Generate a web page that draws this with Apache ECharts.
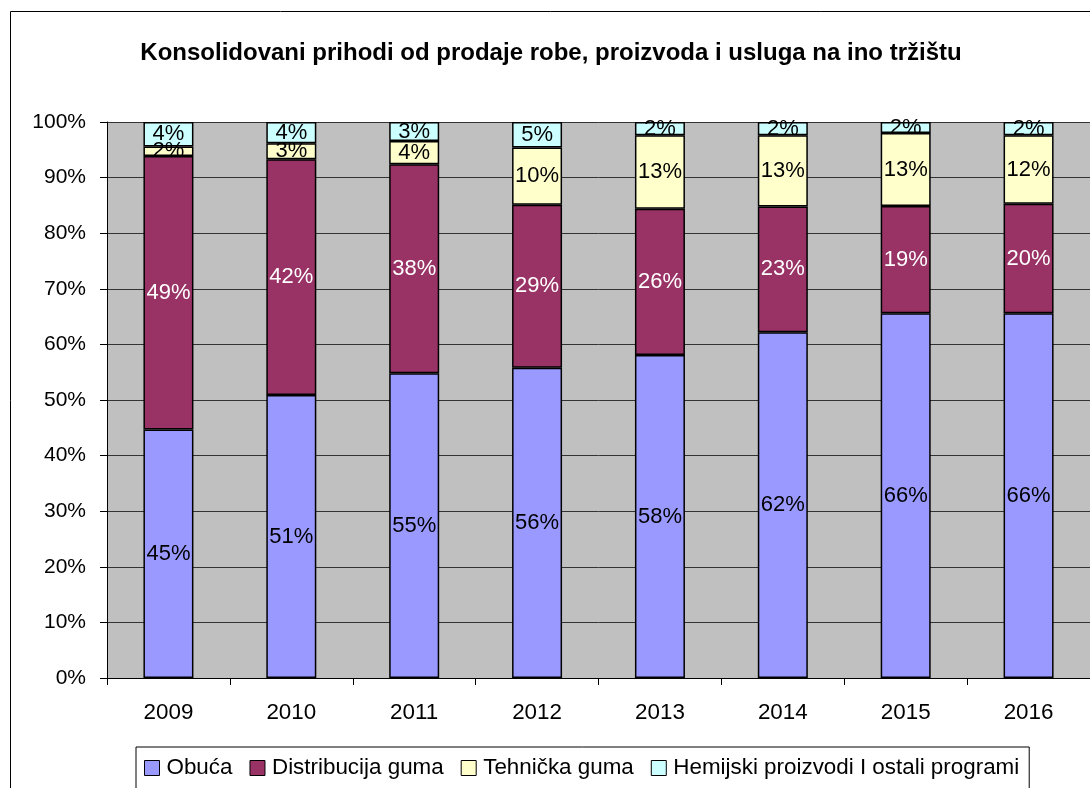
<!DOCTYPE html>
<html>
<head>
<meta charset="utf-8">
<script src="https://cdn.jsdelivr.net/npm/echarts@6/dist/echarts.min.js"></script>
<style>
html,body{margin:0;padding:0;background:#fff;}
#chart{width:1090px;height:788px;}
</style>
</head>
<body>
<div id="chart"></div>
<script>
const titleText = 'Konsolidovani prihodi od prodaje robe, proizvoda i usluga na ino tržištu';
const years = ['2009','2010','2011','2012','2013','2014','2015','2016'];
const obuca      = [44.7, 50.9, 54.8, 55.8, 58.1, 62.2, 65.6, 65.6];
const distrib    = [49.2, 42.4, 37.6, 29.3, 26.3, 22.6, 19.3, 19.7];
const tehnicka   = [1.7, 2.9, 4.2, 10.3, 13.2, 12.8, 13.1, 12.3];
const hemijski   = [4.4, 3.8, 3.4, 4.6, 2.4, 2.4, 2.0, 2.4];
const seriesNames = ['Obuća', 'Distribucija guma', 'Tehnička guma', 'Hemijski proizvodi I ostali programi'];
const yTicks = [0,10,20,30,40,50,60,70,80,90,100];

const FONT = 'Liberation Sans, Arial, sans-serif';
const colors = ['#9999FF', '#993366', '#FFFFCC', '#CCFFFF'];
const labelColors = ['#000', '#fff', '#000', '#000'];
const dataSets = [obuca, distrib, tehnicka, hemijski];

const chart = echarts.init(document.getElementById('chart'), null, {renderer: 'canvas'});
chart.setOption({
  animation: false,
  backgroundColor: '#fff',
  textStyle: {fontFamily: FONT},
  graphic: [
    {type: 'rect', z: 0, shape: {x: 10.5, y: 11.5, width: 1200, height: 900}, style: {fill: 'none', stroke: '#000', lineWidth: 1}},
    {type: 'text', z: 10, x: 551, y: 53, style: {text: titleText, font: 'bold 24px ' + FONT, fill: '#000', textAlign: 'center', textVerticalAlign: 'middle'}}
  ],
  grid: {left: 107, top: 122, width: 992, height: 556, backgroundColor: '#C0C0C0', show: true, borderWidth: 0},
  legend: {
    left: 136, top: 747,
    itemWidth: 15, itemHeight: 15, itemGap: 17,
    padding: [10, 10, 14, 8],
    borderColor: '#000', borderWidth: 1, backgroundColor: '#fff',
    textStyle: {fontSize: 22.4, fontFamily: FONT, color: '#000', padding: [0, 0, 0, 2]},
    icon: 'rect',
    itemStyle: {borderColor: '#000', borderWidth: 1},
    data: seriesNames
  },
  xAxis: {
    type: 'category', data: years,
    axisLine: {show: true, lineStyle: {color: '#000', width: 1}},
    axisTick: {show: true, length: 7, lineStyle: {color: '#000'}},
    axisLabel: {fontSize: 22.4, color: '#000', margin: 24, fontFamily: FONT},
    splitLine: {show: false}
  },
  yAxis: {
    type: 'value', min: 0, max: 100, interval: 10,
    axisLine: {show: true, lineStyle: {color: '#000', width: 1}},
    axisTick: {show: true, length: 7, lineStyle: {color: '#000'}},
    axisLabel: {fontSize: 21, color: '#000', margin: 21, fontFamily: FONT, padding: [5, 0, 0, 0], formatter: v => yTicks.includes(v) ? v + '%' : ''},
    splitLine: {show: true, lineStyle: {color: '#333', width: 1}}
  },
  series: dataSets.map((d, i) => ({
    name: seriesNames[i],
    type: 'bar',
    stack: 'total',
    barWidth: 50,
    data: d,
    itemStyle: {color: colors[i], borderColor: '#000', borderWidth: 1.5},
    label: {
      show: true, position: 'inside',
      fontSize: 22, fontFamily: FONT, color: labelColors[i],
      formatter: p => Math.round(p.value) + '%'
    }
  }))
});
</script>
</body>
</html>
